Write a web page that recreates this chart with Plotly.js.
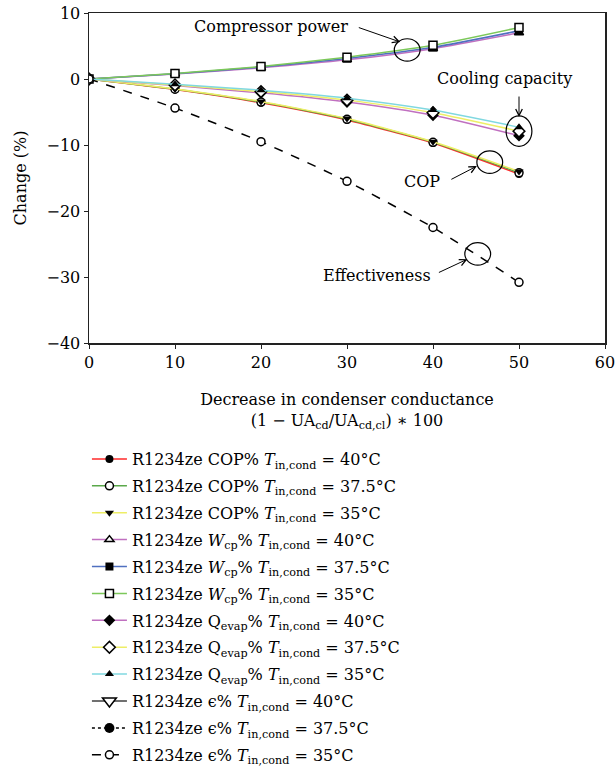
<!DOCTYPE html>
<html>
<head>
<meta charset="utf-8">
<script src="https://cdn.plot.ly/plotly-3.0.1.min.js"></script>
<style>
html,body{margin:0;padding:0;background:#fff;}
.legend .traces{opacity:1 !important;}
</style>
</head>
<body>
<div id="chart" style="width:616px;height:771px;"></div>
<script>
// Decrease in condenser conductance (%)
const xVals = [0, 10, 20, 30, 40, 50];

// COP change (%)
const cop40 = [0, -1.6, -3.6, -6.2, -9.7, -14.4];
const cop375 = [0, -1.55, -3.5, -6.1, -9.6, -14.2];
const cop35 = [0, -1.5, -3.4, -6.0, -9.5, -14.0];

// Compressor power change (%)
const wcp40 = [0, 0.75, 1.7, 2.9, 4.6, 7.0];
const wcp375 = [0, 0.8, 1.8, 3.1, 4.8, 7.3];
const wcp35 = [0, 0.85, 1.9, 3.3, 5.1, 7.8];

// Cooling capacity change (%)
const q40 = [0, -1.0, -2.1, -3.5, -5.5, -8.6];
const q375 = [0, -0.9, -1.9, -3.2, -5.1, -7.9];
const q35 = [0, -0.8, -1.7, -2.9, -4.7, -7.3];

// Effectiveness change (%) — the 40°C and 37.5°C series are not drawn in the plot (legend only)
const eps40 = [0, -4.4, -9.5, -15.5, -22.5, -30.8];
const eps375 = [0, -4.4, -9.5, -15.5, -22.5, -30.8];
const eps35 = [0, -4.4, -9.5, -15.5, -22.5, -30.8];

const TC = ' <i>T</i><sub>in,cond</sub> = ';
const names = {
  cop40: 'R1234ze COP%' + TC + '40°C',
  cop375: 'R1234ze COP%' + TC + '37.5°C',
  cop35: 'R1234ze COP%' + TC + '35°C',
  w40: 'R1234ze <i>W</i><sub>cp</sub>%' + TC + '40°C',
  w375: 'R1234ze <i>W</i><sub>cp</sub>%' + TC + '37.5°C',
  w35: 'R1234ze <i>W</i><sub>cp</sub>%' + TC + '35°C',
  q40: 'R1234ze Q<sub>evap</sub>%' + TC + '40°C',
  q375: 'R1234ze Q<sub>evap</sub>%' + TC + '37.5°C',
  q35: 'R1234ze Q<sub>evap</sub>%' + TC + '35°C',
  e40: 'R1234ze ϵ%' + TC + '40°C',
  e375: 'R1234ze ϵ%' + TC + '37.5°C',
  e35: 'R1234ze ϵ%' + TC + '35°C'
};

let gid = 0;
function tr(x, y, name, color, symbol, opts) {
  opts = opts || {};
  const open = symbol.indexOf('open') >= 0;
  gid += 1;
  const t = {
    x: x, y: y, name: name, type: 'scatter', mode: 'lines+markers',
    legendgroup: 'g' + gid,
    line: {color: color, width: opts.lw || 1.5, dash: opts.dash || 'solid', shape: 'spline', smoothing: 0.6},
    marker: {
      symbol: symbol.replace('-open', ''),
      size: opts.size || 8,
      color: open ? '#ffffff' : '#000000',
      line: {color: '#000000', width: open ? 1.5 : 0}
    }
  };
  if (opts.visible) t.visible = opts.visible;
  return t;
}

const traces = [
  tr(xVals, cop40, names.cop40, '#ff2a2a', 'circle'),
  tr(xVals, cop375, names.cop375, '#5aa84a', 'circle-open'),
  tr(xVals, cop35, names.cop35, '#eeee66', 'triangle-down'),
  tr(xVals, wcp40, names.w40, '#c070c0', 'triangle-up-open'),
  tr(xVals, wcp375, names.w375, '#5070c0', 'square'),
  tr(xVals, wcp35, names.w35, '#7cc85a', 'square-open'),
  tr(xVals, q40, names.q40, '#c070c0', 'diamond', {size: 9}),
  tr(xVals, q375, names.q375, '#eeee66', 'diamond-open', {size: 9}),
  tr(xVals, q35, names.q35, '#80d8e0', 'triangle-up'),
  tr(xVals, eps40, names.e40, '#404040', 'triangle-down-open', {size: 12, visible: 'legendonly'}),
  tr(xVals, eps375, names.e375, '#000000', 'circle', {dash: 'dot', size: 10, visible: 'legendonly'}),
  tr(xVals, eps35, names.e35, '#000000', 'circle-open', {dash: 'dash'})
];

const F = 'DejaVu Serif, Liberation Serif, serif';
const FS = 16;

const layout = {
  width: 616, height: 771,
  margin: {l: 89, r: 11, t: 13, b: 428},
  paper_bgcolor: '#ffffff', plot_bgcolor: '#ffffff',
  font: {family: F, size: FS, color: '#000000'},
  showlegend: true,
  legend: {
    x: -0.004, xanchor: 'left', y: 0.4267, yref: 'container', yanchor: 'top',
    font: {family: F, size: FS, color: '#000000'},
    itemwidth: 35, tracegroupgap: 3.1, bgcolor: 'rgba(0,0,0,0)'
  },
  xaxis: {
    range: [0, 60], dtick: 10, tick0: 0,
    showline: true, mirror: true, linecolor: '#222222', linewidth: 1.5,
    ticks: 'outside', ticklen: 4, tickcolor: '#222222',
    showgrid: false, zeroline: false,
    tickfont: {family: F, size: FS},
    title: {text: 'Decrease in condenser conductance<br>(1 − UA<sub>cd</sub>/UA<sub>cd,cl</sub>) ∗ 100', font: {family: F, size: FS}, standoff: 23}
  },
  yaxis: {
    range: [-40, 10], dtick: 10,
    showline: true, mirror: true, linecolor: '#222222', linewidth: 1.5,
    ticks: 'outside', ticklen: 4, tickcolor: '#222222',
    showgrid: false, zeroline: false,
    tickfont: {family: F, size: FS},
    title: {text: 'Change (%)', font: {family: F, size: FS}, standoff: 16}
  },
  shapes: [
    {type: 'circle', xref: 'x', yref: 'y', x0: 35.5, x1: 38.5, y0: 2.7, y1: 6.1, line: {color: '#000', width: 1.2}},
    {type: 'circle', xref: 'x', yref: 'y', x0: 48.5, x1: 51.5, y0: -10.2, y1: -5.6, line: {color: '#000', width: 1.2}},
    {type: 'circle', xref: 'x', yref: 'y', x0: 45.1, x1: 48.1, y0: -14.3, y1: -10.9, line: {color: '#000', width: 1.2}},
    {type: 'circle', xref: 'x', yref: 'y', x0: 43.7, x1: 46.7, y0: -28.2, y1: -24.8, line: {color: '#000', width: 1.2}}
  ],
  annotations: [
    {x: 21.2, y: 7.9, xref: 'x', yref: 'y', text: 'Compressor power', showarrow: false, font: {family: F, size: FS}},
    {x: 48.3, y: 0.15, xref: 'x', yref: 'y', text: 'Cooling capacity', showarrow: false, font: {family: F, size: FS}},
    {x: 38.7, y: -15.6, xref: 'x', yref: 'y', text: 'COP', showarrow: false, font: {family: F, size: FS}},
    {x: 33.5, y: -29.8, xref: 'x', yref: 'y', text: 'Effectiveness', showarrow: false, font: {family: F, size: FS}},
    {x: 36.2, y: 5.6, xref: 'x', yref: 'y', ax: -43, ay: -15, text: '', showarrow: true, arrowhead: 5, arrowsize: 1.3, arrowwidth: 1, arrowcolor: '#000'},
    {x: 50, y: -5.76, xref: 'x', yref: 'y', ax: 0, ay: -22, text: '', showarrow: true, arrowhead: 5, arrowsize: 1.3, arrowwidth: 1, arrowcolor: '#000'},
    {x: 45.1, y: -13.2, xref: 'x', yref: 'y', ax: -27, ay: 14, text: '', showarrow: true, arrowhead: 5, arrowsize: 1.3, arrowwidth: 1, arrowcolor: '#000'},
    {x: 44.0, y: -27.3, xref: 'x', yref: 'y', ax: -30, ay: 14, text: '', showarrow: true, arrowhead: 5, arrowsize: 1.3, arrowwidth: 1, arrowcolor: '#000'}
  ]
};

Plotly.newPlot('chart', traces, layout, {displayModeBar: false, staticPlot: true});
</script>
</body>
</html>
